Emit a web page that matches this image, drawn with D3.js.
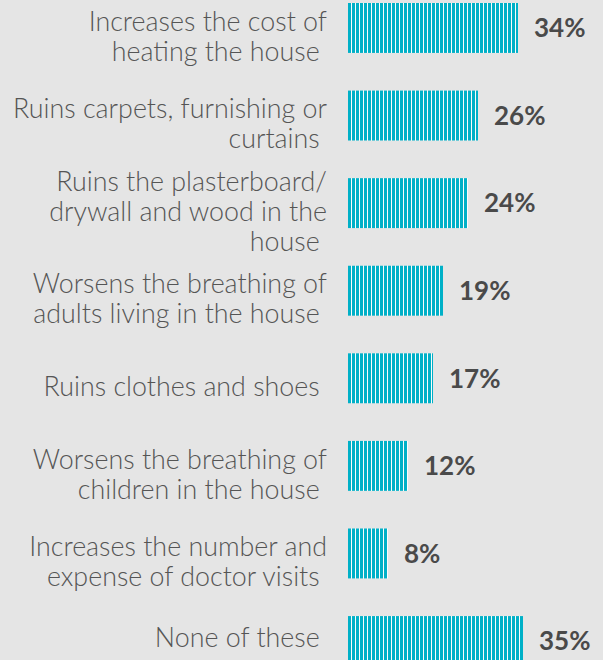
<!DOCTYPE html>
<html>
<head>
<meta charset="utf-8">
<script src="https://cdn.jsdelivr.net/npm/d3@7"></script>
<style>
  html, body { margin: 0; padding: 0; background: #e5e5e5; }
  svg { display: block; }
</style>
</head>
<body>
<svg id="chart"></svg>
<script>
/* Mould / damp consequences: striped horizontal bars. */
var categories = [
  "Increases the cost of\nheating the house",
  "Ruins carpets, furnishing or\ncurtains",
  "Ruins the plasterboard/\ndrywall and wood in the\nhouse",
  "Worsens the breathing of\nadults living in the house",
  "Ruins clothes and shoes",
  "Worsens the breathing of\nchildren in the house",
  "Increases the number and\nexpense of doctor visits",
  "None of these"
];
var values = [34, 26, 24, 19, 17, 12, 8, 35];

(function () {
  var w = 603, h = 660;
  var svg = d3.select("#chart").attr("width", w).attr("height", h);

  var rows = categories.map(function (c, i) {
    return { label: c, value: values[i] };
  });

  var x = d3.scaleLinear().domain([0, 50]).range([348, 598]);
  var y = d3.scaleBand()
    .domain(categories)
    .range([3, 666])
    .paddingInner(0.43)
    .paddingOuter(0);

  var defs = svg.append("defs");
  var pat = defs.append("pattern")
    .attr("id", "stripes")
    .attr("patternUnits", "userSpaceOnUse")
    .attr("x", x(0))
    .attr("width", 4)
    .attr("height", 4);
  pat.append("rect").attr("width", 4).attr("height", 4).attr("fill", "#fafcfc");
  pat.append("rect").attr("width", 3).attr("height", 4).attr("fill", "#00b0c7");

  svg.append("g")
    .selectAll("rect")
    .data(rows)
    .join("rect")
    .attr("x", x(0))
    .attr("y", function (d) { return y(d.label); })
    .attr("width", function (d) { return x(d.value) - x(0); })
    .attr("height", y.bandwidth())
    .attr("fill", "url(#stripes)");

  // value labels
  svg.append("g")
    .selectAll("text")
    .data(rows)
    .join("text")
    .attr("x", function (d) { return x(d.value) + 16; })
    .attr("y", function (d) { return y(d.label) + y.bandwidth() / 2; })
    .attr("dy", "0.36em")
    .attr("fill", "#4a4a4a")
    .style("font-family", "Lato, 'Open Sans', sans-serif")
    .style("font-weight", "bold")
    .style("font-size", "26px")
    .text(function (d) { return d.value + "%"; });

  // category labels, right aligned, multi-line
  var lineH = 30;
  var lab = svg.append("g")
    .attr("fill", "#555555")
    .style("font-family", "Lato, 'Open Sans', sans-serif")
    .style("font-weight", "300")
    .style("font-size", "20px")
    .selectAll("text")
    .data(rows)
    .join("text")
    .attr("text-anchor", "end")
    .attr("transform", function (d) {
      var n = d.label.split("\n").length;
      var top = y(d.label) + y.bandwidth() / 2 + 8 - (n - 1) * lineH / 2;
      // keep the last line inside the picture
      top = Math.min(top, h - 23 - (n - 1) * lineH);
      return "translate(327," + top + ")";
    });

  lab.each(function (d) {
    var lines = d.label.split("\n");
    var t = d3.select(this);
    lines.forEach(function (s, i) {
      t.append("tspan")
        .attr("x", 0)
        .attr("y", i * lineH)
        .attr("dy", "0.36em")
        .text(i === lines.length - 1 ? s + "\u00a0" : s);
    });
  });

  // size the label font so the widest line spans ~314px like the original
  var widest = 0;
  lab.selectAll("tspan").each(function () {
    widest = Math.max(widest, this.getComputedTextLength());
  });
  var fs = widest ? 20 * 314 / widest : 26;
  lab.style("font-size", fs + "px");
})();
</script>
</body>
</html>
